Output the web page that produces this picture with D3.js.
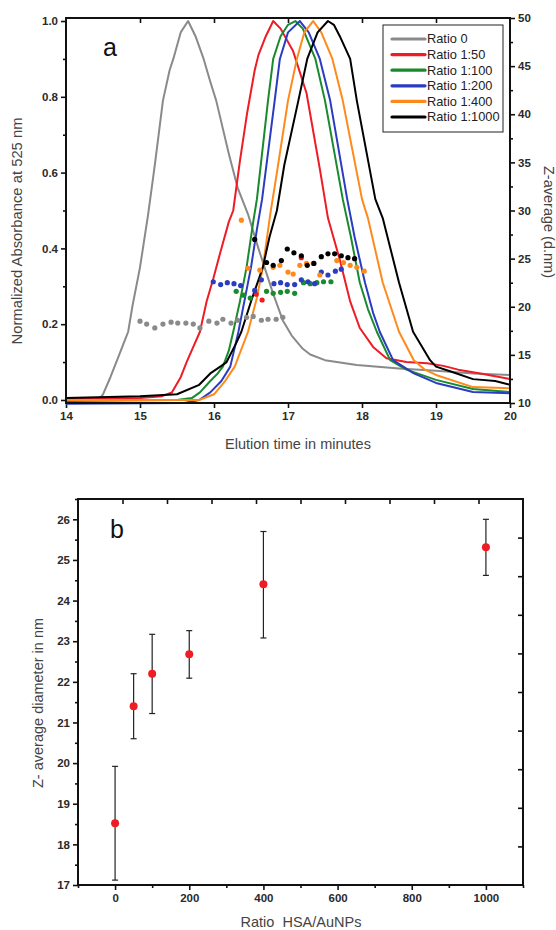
<!DOCTYPE html>
<html>
<head>
<meta charset="utf-8">
<script src="https://cdn.jsdelivr.net/npm/d3@7/dist/d3.min.js"></script>
<style>
  body { margin: 0; background: #fff; }
  svg { display: block; font-family: "Liberation Sans", Arial, sans-serif; }
  .tick text { font-weight: 700; }
</style>
</head>
<body>
<svg id="chart" width="556" height="930"></svg>
<script>
// ---- panel a : elution curves (time in min, normalized absorbance) ----
const curveRatio0 = [[14.0,0.002],[14.45,0.002],[14.5,0.015],[14.6,0.06],[14.7,0.11],[14.8,0.16],[14.84,0.18],[14.9,0.25],[15.0,0.35],[15.11,0.49],[15.2,0.62],[15.31,0.79],[15.4,0.87],[15.45,0.9],[15.55,0.97],[15.65,1.0],[15.75,0.96],[15.86,0.9],[15.95,0.84],[16.03,0.79],[16.2,0.65],[16.32,0.56],[16.46,0.49],[16.6,0.4],[16.7,0.34],[16.8,0.28],[16.93,0.21],[17.05,0.17],[17.2,0.135],[17.3,0.12],[17.5,0.105],[17.93,0.092],[18.5,0.083],[19.0,0.077],[19.5,0.07],[20.0,0.066]];
const curveRatio50 = [[14.0,0.003],[15.0,0.005],[15.3,0.01],[15.43,0.02],[15.55,0.06],[15.63,0.1],[15.72,0.14],[15.81,0.18],[15.9,0.26],[15.99,0.32],[16.1,0.4],[16.2,0.47],[16.26,0.5],[16.35,0.63],[16.45,0.76],[16.55,0.87],[16.6,0.91],[16.7,0.96],[16.8,1.0],[16.9,0.98],[17.07,0.92],[17.25,0.81],[17.43,0.61],[17.54,0.48],[17.7,0.37],[17.84,0.26],[17.97,0.19],[18.15,0.14],[18.33,0.11],[18.6,0.1],[18.88,0.097],[19.1,0.09],[19.3,0.08],[19.6,0.07],[20.0,0.055]];
const curveRatio100 = [[14.0,-0.003],[15.5,0.0],[15.7,0.005],[15.81,0.02],[15.95,0.05],[16.05,0.07],[16.12,0.088],[16.2,0.13],[16.26,0.18],[16.35,0.26],[16.44,0.35],[16.53,0.47],[16.58,0.53],[16.73,0.79],[16.8,0.9],[16.9,0.96],[17.0,0.99],[17.1,1.0],[17.2,0.98],[17.37,0.9],[17.5,0.79],[17.74,0.53],[17.85,0.43],[17.97,0.31],[18.08,0.24],[18.2,0.18],[18.38,0.105],[18.6,0.08],[19.0,0.053],[19.5,0.029],[20.0,0.021]];
const curveRatio200 = [[14.0,-0.01],[15.6,-0.008],[15.8,0.0],[15.95,0.02],[16.1,0.05],[16.22,0.088],[16.33,0.18],[16.42,0.27],[16.5,0.35],[16.58,0.45],[16.65,0.53],[16.82,0.79],[16.89,0.9],[17.0,0.97],[17.16,1.0],[17.28,0.97],[17.43,0.9],[17.57,0.79],[17.8,0.53],[17.9,0.43],[18.04,0.31],[18.15,0.23],[18.24,0.18],[18.42,0.105],[18.7,0.07],[19.0,0.045],[19.5,0.021],[20.0,0.018]];
const curveRatio400 = [[14.0,0.0],[15.8,0.0],[16.0,0.015],[16.15,0.05],[16.28,0.088],[16.46,0.18],[16.58,0.27],[16.66,0.35],[16.76,0.49],[16.85,0.6],[17.0,0.79],[17.12,0.9],[17.22,0.97],[17.34,1.0],[17.45,0.97],[17.6,0.9],[17.74,0.79],[18.0,0.53],[18.08,0.48],[18.28,0.31],[18.5,0.18],[18.7,0.105],[18.85,0.08],[19.0,0.066],[19.5,0.034],[20.0,0.031]];
const curveRatio1000 = [[14.0,0.005],[15.0,0.01],[15.5,0.015],[15.8,0.04],[15.95,0.07],[16.1,0.09],[16.17,0.1],[16.3,0.15],[16.37,0.18],[16.5,0.26],[16.66,0.35],[16.75,0.43],[16.85,0.5],[16.95,0.62],[17.14,0.79],[17.26,0.9],[17.4,0.97],[17.54,1.0],[17.62,0.99],[17.7,0.96],[17.84,0.9],[17.93,0.79],[18.18,0.53],[18.28,0.48],[18.5,0.31],[18.69,0.18],[18.92,0.105],[19.0,0.088],[19.2,0.075],[19.5,0.055],[19.8,0.05],[20.0,0.04]];

// ---- panel a : Z-average dots (time in min, d.nm) ----
const dotsRatio0 = [[15.0,18.5],[15.09,18.2],[15.2,17.8],[15.31,18.2],[15.42,18.4],[15.51,18.3],[15.62,18.3],[15.72,18.2],[15.81,17.8],[15.93,18.5],[16.04,18.3],[16.12,18.7],[16.23,18.3],[16.32,18.6],[16.44,18.9],[16.53,19.0],[16.64,18.6],[16.73,18.7],[16.84,18.7],[16.93,18.9]];
const dotsRatio50 = [[16.57,21.3],[16.65,20.7],[17.18,25.1]];
const dotsRatio100 = [[16.3,21.6],[16.4,21.2],[16.49,20.9],[16.71,21.6],[16.8,21.4],[16.9,21.5],[16.99,21.6],[17.09,21.4],[17.21,22.5],[17.3,22.4],[17.39,22.5],[17.48,22.6],[17.58,22.6]];
const dotsRatio200 = [[15.99,22.6],[16.09,22.3],[16.18,22.5],[16.27,22.4],[16.36,22.2],[16.55,21.7],[16.64,22.8],[16.81,22.4],[16.9,22.5],[16.99,22.3],[17.09,22.3],[17.18,22.8],[17.27,22.6],[17.36,22.4],[17.45,23.6],[17.54,23.3],[17.64,23.7],[17.72,23.9]];
const dotsRatio400 = [[16.37,29.0],[16.46,24.0],[16.62,23.8],[16.8,24.1],[16.89,24.3],[17.0,23.6],[17.07,23.4],[17.16,24.3],[17.25,24.5],[17.34,24.5],[17.43,23.3],[17.66,24.8],[17.75,24.6],[17.84,24.3],[17.93,24.1],[18.03,23.7]];
const dotsRatio1000 = [[16.55,27.0],[16.71,24.6],[16.8,24.3],[16.91,24.8],[16.99,26.0],[17.08,25.6],[17.18,25.3],[17.26,24.3],[17.35,24.5],[17.45,25.2],[17.54,25.5],[17.63,25.5],[17.72,25.3],[17.81,25.1],[17.9,25.0]];

const seriesLabels = ["Ratio 0", "Ratio 1:50", "Ratio 1:100", "Ratio 1:200", "Ratio 1:400", "Ratio 1:1000"];
const seriesColors = ["#8a8a8a", "#ee1c24", "#1a8a2e", "#2a3cc0", "#ff8a1c", "#000000"];
const curves = [curveRatio0, curveRatio50, curveRatio100, curveRatio200, curveRatio400, curveRatio1000];
const dots = [dotsRatio0, dotsRatio50, dotsRatio100, dotsRatio200, dotsRatio400, dotsRatio1000];

const timeTicks = [14, 15, 16, 17, 18, 19, 20];
const absTicks = [0, 0.2, 0.4, 0.6, 0.8, 1.0];
const zTicks = [10, 15, 20, 25, 30, 35, 40, 45, 50];

// ---- panel b : Z-average vs ratio ----
const ratios = [0, 50, 100, 200, 400, 1000];
const zAverage = [18.52, 21.4, 22.2, 22.68, 24.4, 25.31];
const zHigh = [19.92, 22.2, 23.17, 23.26, 25.7, 26.0];
const zLow = [17.12, 20.6, 21.22, 22.09, 23.08, 24.62];
const ratioTicks = [0, 200, 400, 600, 800, 1000];
const diamTicks = [17, 18, 19, 20, 21, 22, 23, 24, 25, 26];

const svg = d3.select("#chart");

function styleAxis(g, size) {
    g.attr("font-family", "'Liberation Sans', Arial, sans-serif")
     .attr("font-weight", 700);
    g.select(".domain").remove();
    g.selectAll(".tick line").attr("stroke", "#111").attr("stroke-width", 1.6);
    g.selectAll(".tick text")
        .attr("font-weight", 700)
        .style("font-size", size + "px")
        .style("fill", "#2a2a2a");
}

// ================= panel a =================
const A = { left: 66, right: 510, top: 18, bottom: 403 };
const xA = d3.scaleLinear().domain([14, 20]).range([A.left, A.right]);
const yA = d3.scaleLinear().domain([-0.008, 1.008]).range([A.bottom, A.top]);
const yZ = d3.scaleLinear().domain([10, 50]).range([A.bottom, A.top]);

const gA = svg.append("g");

// minor ticks
gA.append("g").attr("transform", `translate(${A.left},0)`)
    .call(d3.axisLeft(yA).tickValues([0.1, 0.3, 0.5, 0.7, 0.9]).tickSize(3).tickFormat(""))
    .call(g => styleAxis(g, 11));
gA.append("g").attr("transform", `translate(${A.right},0)`)
    .call(d3.axisRight(yZ).tickValues(zTicks.slice(0, -1).map(v => v + 2.5)).tickSize(3).tickFormat(""))
    .call(g => styleAxis(g, 11));

// major ticks
gA.append("g").attr("transform", `translate(${A.left},0)`)
    .call(d3.axisLeft(yA).tickValues(absTicks).tickSize(5).tickPadding(3).tickFormat(d3.format(".1f")))
    .call(g => styleAxis(g, 11.5));
gA.append("g").attr("transform", `translate(${A.right},0)`)
    .call(d3.axisRight(yZ).tickValues(zTicks).tickSize(5).tickPadding(3).tickFormat(d3.format("d")))
    .call(g => styleAxis(g, 11.5));
gA.append("g").attr("transform", `translate(0,${A.bottom})`)
    .call(d3.axisBottom(xA).tickValues(timeTicks).tickSize(5).tickPadding(4).tickFormat(d3.format("d")))
    .call(g => styleAxis(g, 11.5));
gA.append("g").attr("transform", `translate(0,${A.top})`)
    .call(d3.axisTop(xA).tickValues(timeTicks.slice(1, -1)).tickSize(-5).tickFormat(""))
    .call(g => styleAxis(g, 11));

// curves
const lineA = d3.line().x(d => xA(d[0])).y(d => yA(d[1]));
curves.forEach((c, i) => {
    gA.append("path")
        .datum(c)
        .attr("fill", "none")
        .attr("stroke", seriesColors[i])
        .attr("stroke-width", 2)
        .attr("stroke-linejoin", "round")
        .attr("d", lineA);
});

// dots
dots.forEach((s, i) => {
    gA.selectAll(null)
        .data(s)
        .enter().append("circle")
        .attr("cx", d => xA(d[0]))
        .attr("cy", d => yZ(d[1]))
        .attr("r", 2.6)
        .attr("fill", seriesColors[i]);
});

// frame
gA.append("rect")
    .attr("x", A.left).attr("y", A.top)
    .attr("width", A.right - A.left).attr("height", A.bottom - A.top)
    .attr("fill", "none").attr("stroke", "#111").attr("stroke-width", 2);

// legend
const leg = gA.append("g");
leg.append("rect")
    .attr("x", 383).attr("y", 25).attr("width", 120).attr("height", 107)
    .attr("fill", "#fff").attr("stroke", "#222").attr("stroke-width", 1);
seriesLabels.forEach((lab, i) => {
    const ly = 39 + i * 15.6;
    leg.append("line")
        .attr("x1", 392).attr("x2", 425).attr("y1", ly).attr("y2", ly)
        .attr("stroke", seriesColors[i]).attr("stroke-width", 3.2)
        .attr("stroke-linecap", "round");
    leg.append("text")
        .attr("x", 427).attr("y", ly)
        .attr("dy", "0.35em")
        .style("font-size", "12.8px")
        .style("fill", "#222")
        .text(lab);
});

gA.append("text").attr("x", 103).attr("y", 56)
    .style("font-size", "25px").style("fill", "#111").text("a");

gA.append("text")
    .attr("transform", "translate(22,231) rotate(-90)")
    .attr("text-anchor", "middle")
    .style("font-size", "14.8px").style("fill", "#444")
    .text("Normalized Absorbance at 525 nm");

gA.append("text")
    .attr("transform", "translate(544,222) rotate(90)")
    .attr("text-anchor", "middle")
    .style("font-size", "14.5px").style("fill", "#444")
    .text("Z-average (d.nm)");

gA.append("text")
    .attr("x", 298).attr("y", 449)
    .attr("text-anchor", "middle")
    .style("font-size", "14.5px").style("fill", "#444")
    .text("Elution time in minutes");

// ================= panel b =================
const B = { left: 78, right: 523, top: 499, bottom: 885 };
const xB = d3.scaleLinear().domain([-100, 1100]).range([B.left, B.right]);
const yB = d3.scaleLinear().domain([17, 26.5]).range([B.bottom, B.top]);
const xFrame = d3.scaleLinear().domain([0, 10]).range([B.left, B.right]);
const yFrame = d3.scaleLinear().domain([0, 10]).range([B.bottom, B.top]);

const gB = svg.append("g");

gB.append("g").attr("transform", `translate(${B.left},0)`)
    .call(d3.axisLeft(yB).tickValues(diamTicks.map(v => v + 0.5)).tickSize(3).tickFormat(""))
    .call(g => styleAxis(g, 11));
gB.append("g").attr("transform", `translate(0,${B.bottom})`)
    .call(d3.axisBottom(xB).tickValues([-100, 100, 300, 500, 700, 900, 1100]).tickSize(3).tickFormat(""))
    .call(g => styleAxis(g, 11));

gB.append("g").attr("transform", `translate(${B.left},0)`)
    .call(d3.axisLeft(yB).tickValues(diamTicks).tickSize(5).tickPadding(3).tickFormat(d3.format("d")))
    .call(g => styleAxis(g, 11.5));
gB.append("g").attr("transform", `translate(0,${B.bottom})`)
    .call(d3.axisBottom(xB).tickValues(ratioTicks).tickSize(5).tickPadding(4).tickFormat(d3.format("d")))
    .call(g => styleAxis(g, 11.5));

gB.append("g").attr("transform", `translate(0,${B.top})`)
    .call(d3.axisTop(xFrame).tickValues(d3.range(1, 10)).tickSize(-5).tickFormat(""))
    .call(g => styleAxis(g, 11));
gB.append("g").attr("transform", `translate(${B.right},0)`)
    .call(d3.axisRight(yFrame).tickValues(d3.range(1, 10)).tickSize(-5).tickFormat(""))
    .call(g => styleAxis(g, 11));

// error bars
const bars = gB.selectAll(".err").data(ratios).enter().append("g");
bars.append("line")
    .attr("x1", d => xB(d)).attr("x2", d => xB(d))
    .attr("y1", (d, i) => yB(zHigh[i])).attr("y2", (d, i) => yB(zLow[i]))
    .attr("stroke", "#222").attr("stroke-width", 1.2);
bars.append("line")
    .attr("x1", d => xB(d) - 3).attr("x2", d => xB(d) + 3)
    .attr("y1", (d, i) => yB(zHigh[i])).attr("y2", (d, i) => yB(zHigh[i]))
    .attr("stroke", "#222").attr("stroke-width", 1.2);
bars.append("line")
    .attr("x1", d => xB(d) - 3).attr("x2", d => xB(d) + 3)
    .attr("y1", (d, i) => yB(zLow[i])).attr("y2", (d, i) => yB(zLow[i]))
    .attr("stroke", "#222").attr("stroke-width", 1.2);
bars.append("circle")
    .attr("cx", d => xB(d))
    .attr("cy", (d, i) => yB(zAverage[i]))
    .attr("r", 4)
    .attr("fill", "#ee1c24");

gB.append("rect")
    .attr("x", B.left).attr("y", B.top)
    .attr("width", B.right - B.left).attr("height", B.bottom - B.top)
    .attr("fill", "none").attr("stroke", "#111").attr("stroke-width", 2);

gB.append("text").attr("x", 110).attr("y", 538)
    .style("font-size", "25px").style("fill", "#111").text("b");

gB.append("text")
    .attr("transform", "translate(43,703) rotate(-90)")
    .attr("text-anchor", "middle")
    .style("font-size", "14.5px").style("fill", "#444")
    .text("Z- average diameter in nm");

gB.append("text")
    .attr("x", 301).attr("y", 927)
    .attr("text-anchor", "middle")
    .style("font-size", "14.5px").style("fill", "#444")
    .style("white-space", "pre")
    .text("Ratio  HSA/AuNPs");
</script>
</body>
</html>
